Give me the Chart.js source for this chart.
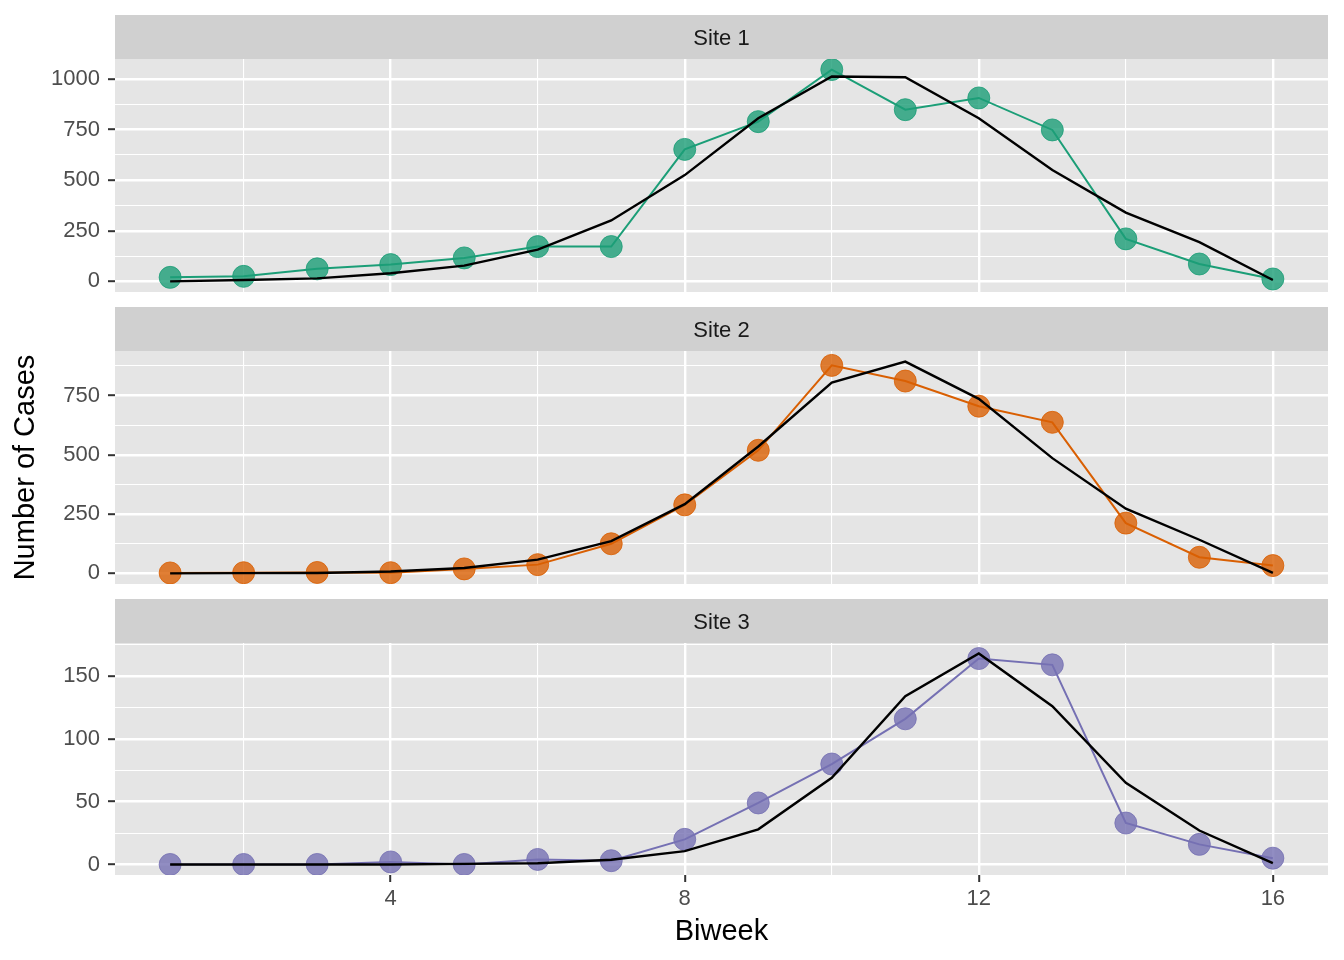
<!DOCTYPE html>
<html>
<head>
<meta charset="utf-8">
<script src="https://cdn.jsdelivr.net/npm/chart.js@4.4.1/dist/chart.umd.min.js"></script>
<style>
  body { margin: 0; background: #ffffff; }
  #wrap { position: relative; width: 1344px; height: 960px; }
  canvas { position: absolute; left: 0; }
</style>
</head>
<body>
<div id="wrap">
  <canvas id="site1" width="1344" height="299" style="top:15px"></canvas>
  <canvas id="site2" width="1344" height="299" style="top:307px"></canvas>
  <canvas id="site3" width="1344" height="361" style="top:599px"></canvas>
</div>
<script>
// Datos (casos por quincena)
const weeks = [1, 2, 3, 4, 5, 6, 7, 8, 9, 10, 11, 12, 13, 14, 15, 16];

const site1Cases = [20, 25, 62, 83, 116, 172, 172, 652, 789, 1046, 848, 906, 748, 210, 86, 12];
const site1Fit = [0, 7, 15, 40, 78, 157, 301, 525, 806, 1012, 1008, 806, 550, 340, 194, 7];

const site2Cases = [2, 3, 4, 3, 19, 37, 125, 289, 519, 877, 811, 705, 637, 212, 68, 33];
const site2Fit = [0, 1, 2, 8, 23, 58, 136, 292, 535, 804, 893, 736, 486, 273, 142, 2];

const site3Cases = [0, 0, 0, 2, 0, 4, 3, 20, 49, 80, 116, 164, 159, 33, 16, 5];
const site3Fit = [0, 0, 0, 0, 0.5, 1, 3.7, 10.6, 28, 69, 134, 168, 126, 65, 27, 1];

const siteNames = ['Site 1', 'Site 2', 'Site 3'];
const siteColors = ['#1b9e77', '#d95f02', '#7570b3'];
const siteFills = ['rgba(27,158,119,0.8)', 'rgba(217,95,2,0.8)', 'rgba(117,112,179,0.8)'];

// Marcas de los ejes (principales y secundarias)
const xTicks = [4, 8, 12, 16];
const xMinorTicks = [2, 6, 10, 14];
const yTicksBig = [0, 250, 500, 750, 1000];
const yMinorBig = [125, 375, 625, 875];
const yTicksSmall = [0, 50, 100, 150];
const yMinorSmall = [25, 75, 125, 175];

const FONT = '"Liberation Sans", Arial, Helvetica, sans-serif';
Chart.defaults.font.family = FONT;

const STRIP_H = 44;
const PLOT_LEFT = 115;
const PLOT_RIGHT_PAD = 16;

// Fondo gris del panel y tira con el nombre del sitio
const facetPlugin = {
    id: 'facet',
    beforeDraw(chart, args, opts) {
        const ctx = chart.ctx;
        const a = chart.chartArea;
        ctx.save();
        ctx.fillStyle = '#d0d0d0';
        ctx.fillRect(a.left, a.top - STRIP_H, a.right - a.left, STRIP_H);
        ctx.fillStyle = '#e5e5e5';
        ctx.fillRect(a.left, a.top, a.right - a.left, a.bottom - a.top);
        ctx.fillStyle = '#1a1a1a';
        ctx.font = '22px ' + FONT;
        ctx.textAlign = 'center';
        ctx.textBaseline = 'alphabetic';
        ctx.fillText(opts.label, (a.left + a.right) / 2, a.top - STRIP_H / 2 + 8);
        ctx.restore();
    }
};

function pairs(values) {
    return weeks.map((w, i) => ({ x: w, y: values[i] }));
}

function rangeOf(a, b) {
    const all = a.concat(b);
    const lo = Math.min(...all);
    const hi = Math.max(...all);
    const pad = (hi - lo) * 0.05;
    return [lo - pad, hi + pad];
}

function crearPanel(id, idx, cases, fit, yMajor, yMinor, opciones) {
    const [ymin, ymax] = rangeOf(cases, fit);
    const xMajorSet = new Set(xTicks);
    const yMajorSet = new Set(yMajor);
    const bottomPanel = opciones.bottom;

    new Chart(document.getElementById(id), {
        type: 'line',
        data: {
            datasets: [{
                data: pairs(fit),
                borderColor: '#000000',
                borderWidth: 2.4,
                pointRadius: 0,
                tension: 0,
                order: 0
            }, {
                data: pairs(cases),
                borderColor: siteColors[idx],
                borderWidth: 2,
                pointRadius: 11,
                pointBackgroundColor: siteFills[idx],
                pointBorderColor: siteFills[idx],
                pointBorderWidth: 1,
                tension: 0,
                order: 1
            }]
        },
        options: {
            responsive: false,
            animation: false,
            events: [],
            layout: {
                // el margen inferior deja sitio a la mitad de la etiqueta del eje y
                padding: { top: STRIP_H, right: PLOT_RIGHT_PAD, left: 0, bottom: bottomPanel ? 0 : 22 }
            },
            plugins: {
                legend: { display: false },
                tooltip: { enabled: false },
                facet: { label: siteNames[idx] }
            },
            scales: {
                x: {
                    type: 'linear',
                    min: 0.25,
                    max: 16.75,
                    afterBuildTicks: s => {
                        s.ticks = xTicks.concat(xMinorTicks).sort((a, b) => a - b).map(v => ({ value: v }));
                    },
                    afterFit: s => { s.height = bottomPanel ? 85 : 0; },
                    border: { display: false },
                    grid: {
                        color: '#ffffff',
                        lineWidth: c => (c.tick && xMajorSet.has(c.tick.value)) ? 2.4 : 1.1,
                        drawTicks: bottomPanel,
                        tickLength: 7,
                        tickWidth: 2,
                        tickColor: c => (c.tick && xMajorSet.has(c.tick.value)) ? '#333333' : 'rgba(0,0,0,0)'
                    },
                    ticks: {
                        display: bottomPanel,
                        autoSkip: false,
                        maxRotation: 0,
                        padding: 4,
                        color: '#4d4d4d',
                        font: { size: 22 },
                        callback: v => xMajorSet.has(v) ? String(v) : ''
                    },
                    title: {
                        display: bottomPanel,
                        text: 'Biweek',
                        color: '#000000',
                        font: { size: 29 },
                        padding: { top: 0, bottom: 11 }
                    }
                },
                y: {
                    type: 'linear',
                    min: ymin,
                    max: ymax,
                    afterBuildTicks: s => {
                        s.ticks = yMajor.concat(yMinor).filter(v => v >= ymin && v <= ymax)
                            .sort((a, b) => a - b).map(v => ({ value: v }));
                    },
                    afterFit: s => { s.width = PLOT_LEFT; },
                    border: { display: false },
                    grid: {
                        color: '#ffffff',
                        lineWidth: c => (c.tick && yMajorSet.has(c.tick.value)) ? 2.4 : 1.1,
                        tickLength: 7,
                        tickWidth: 2,
                        tickColor: c => (c.tick && yMajorSet.has(c.tick.value)) ? '#333333' : 'rgba(0,0,0,0)'
                    },
                    ticks: {
                        autoSkip: false,
                        padding: 8,
                        color: '#4d4d4d',
                        font: { size: 22 },
                        callback: v => yMajorSet.has(v) ? String(v) : ''
                    },
                    title: {
                        display: opciones.yTitle,
                        text: 'Number of Cases',
                        color: '#000000',
                        font: { size: 29 },
                        padding: { top: 9, bottom: 0 }
                    }
                }
            }
        },
        plugins: [facetPlugin]
    });
}

crearPanel('site1', 0, site1Cases, site1Fit, yTicksBig, yMinorBig, { bottom: false, yTitle: false });
crearPanel('site2', 1, site2Cases, site2Fit, yTicksBig.slice(0, 4), yMinorBig, { bottom: false, yTitle: true });
crearPanel('site3', 2, site3Cases, site3Fit, yTicksSmall, yMinorSmall, { bottom: true, yTitle: false });
</script>
</body>
</html>
